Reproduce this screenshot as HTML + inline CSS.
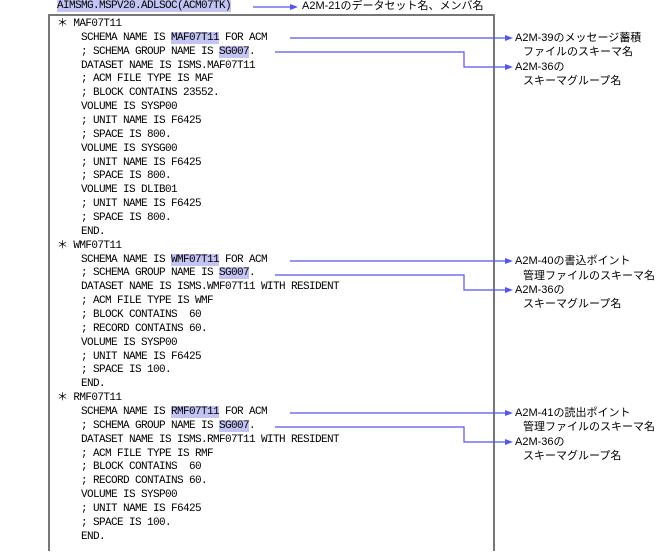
<!DOCTYPE html>
<html><head><meta charset="utf-8"><style>
body{margin:0;width:659px;height:554px;background:#fff;position:relative;overflow:hidden;font-family:"Liberation Mono","Noto Sans CJK JP",monospace;}
.l{position:absolute;font-size:11px;letter-spacing:-0.6px;line-height:14px;white-space:pre;color:#000;}
.h{background:#c4c4f4;}
.j{position:absolute;font-family:"Liberation Sans","Noto Sans CJK JP",sans-serif;font-size:11px;line-height:14px;white-space:pre;color:#000;}
#box{position:absolute;left:48px;top:14px;width:443px;height:535px;border:2px solid #777;border-bottom:none;}
</style></head><body>
<div id="box"></div>
<div class="l" style="left:57px;top:-1px"><span class="h">AIMSMG.MSPV20.ADLSOC(ACM07TK)</span></div>
<div class="j" style="left:302px;top:-1px">A2M-21のデータセット名、メンバ名</div>
<svg style="position:absolute;left:0;top:0" width="659" height="554">
<g stroke="#5555ee" stroke-width="1.2" fill="none">
<line x1="253" y1="7" x2="290" y2="7"/>
<line x1="290" y1="38" x2="505" y2="38"/>
<polyline points="275,52 464,52 464,67 505,67"/>
<line x1="290" y1="261" x2="505" y2="261"/>
<polyline points="275,275 464,275 464,290 505,290"/>
<line x1="290" y1="413" x2="505" y2="413"/>
<polyline points="275,427 464,427 464,442 505,442"/>
</g>
<g fill="#5555ee">
<polygon points="290,4 298,7 290,10"/>
<polygon points="505,35 513,38 505,41"/>
<polygon points="505,64 513,67 505,70"/>
<polygon points="505,258 513,261 505,264"/>
<polygon points="505,287 513,290 505,293"/>
<polygon points="505,410 513,413 505,416"/>
<polygon points="505,439 513,442 505,445"/>
</g>
</svg>
<div class="j" style="left:515px;top:31px">A2M-39のメッセージ蓄積</div>
<div class="j" style="left:523px;top:45px">ファイルのスキーマ名</div>
<div class="j" style="left:515px;top:60px">A2M-36の</div>
<div class="j" style="left:523px;top:74px">スキーマグループ名</div>
<div class="j" style="left:515px;top:254px">A2M-40の書込ポイント</div>
<div class="j" style="left:523px;top:269px">管理ファイルのスキーマ名</div>
<div class="j" style="left:515px;top:283px">A2M-36の</div>
<div class="j" style="left:523px;top:297px">スキーマグループ名</div>
<div class="j" style="left:515px;top:406px">A2M-41の読出ポイント</div>
<div class="j" style="left:523px;top:420px">管理ファイルのスキーマ名</div>
<div class="j" style="left:515px;top:435px">A2M-36の</div>
<div class="j" style="left:523px;top:449px">スキーマグループ名</div>

<div class="l" style="left:57px;top:17px">＊ MAF07T11</div>
<div class="l" style="left:81px;top:31px">SCHEMA NAME IS <span class="h">MAF07T11</span> FOR ACM</div>
<div class="l" style="left:81px;top:45px">; SCHEMA GROUP NAME IS <span class="h">SG007</span>.</div>
<div class="l" style="left:81px;top:59px">DATASET NAME IS ISMS.MAF07T11</div>
<div class="l" style="left:81px;top:72px">; ACM FILE TYPE IS MAF</div>
<div class="l" style="left:81px;top:86px">; BLOCK CONTAINS 23552.</div>
<div class="l" style="left:81px;top:100px">VOLUME IS SYSP00</div>
<div class="l" style="left:81px;top:114px">; UNIT NAME IS F6425</div>
<div class="l" style="left:81px;top:128px">; SPACE IS 800.</div>
<div class="l" style="left:81px;top:142px">VOLUME IS SYSG00</div>
<div class="l" style="left:81px;top:156px">; UNIT NAME IS F6425</div>
<div class="l" style="left:81px;top:169px">; SPACE IS 800.</div>
<div class="l" style="left:81px;top:183px">VOLUME IS DLIB01</div>
<div class="l" style="left:81px;top:197px">; UNIT NAME IS F6425</div>
<div class="l" style="left:81px;top:211px">; SPACE IS 800.</div>
<div class="l" style="left:81px;top:225px">END.</div>
<div class="l" style="left:57px;top:239px">＊ WMF07T11</div>
<div class="l" style="left:81px;top:253px">SCHEMA NAME IS <span class="h">WMF07T11</span> FOR ACM</div>
<div class="l" style="left:81px;top:266px">; SCHEMA GROUP NAME IS <span class="h">SG007</span>.</div>
<div class="l" style="left:81px;top:280px">DATASET NAME IS ISMS.WMF07T11 WITH RESIDENT</div>
<div class="l" style="left:81px;top:294px">; ACM FILE TYPE IS WMF</div>
<div class="l" style="left:81px;top:308px">; BLOCK CONTAINS  60</div>
<div class="l" style="left:81px;top:322px">; RECORD CONTAINS 60.</div>
<div class="l" style="left:81px;top:336px">VOLUME IS SYSP00</div>
<div class="l" style="left:81px;top:350px">; UNIT NAME IS F6425</div>
<div class="l" style="left:81px;top:363px">; SPACE IS 100.</div>
<div class="l" style="left:81px;top:377px">END.</div>
<div class="l" style="left:57px;top:391px">＊ RMF07T11</div>
<div class="l" style="left:81px;top:405px">SCHEMA NAME IS <span class="h">RMF07T11</span> FOR ACM</div>
<div class="l" style="left:81px;top:419px">; SCHEMA GROUP NAME IS <span class="h">SG007</span>.</div>
<div class="l" style="left:81px;top:433px">DATASET NAME IS ISMS.RMF07T11 WITH RESIDENT</div>
<div class="l" style="left:81px;top:447px">; ACM FILE TYPE IS RMF</div>
<div class="l" style="left:81px;top:460px">; BLOCK CONTAINS  60</div>
<div class="l" style="left:81px;top:474px">; RECORD CONTAINS 60.</div>
<div class="l" style="left:81px;top:488px">VOLUME IS SYSP00</div>
<div class="l" style="left:81px;top:502px">; UNIT NAME IS F6425</div>
<div class="l" style="left:81px;top:516px">; SPACE IS 100.</div>
<div class="l" style="left:81px;top:530px">END.</div>
</body></html>
